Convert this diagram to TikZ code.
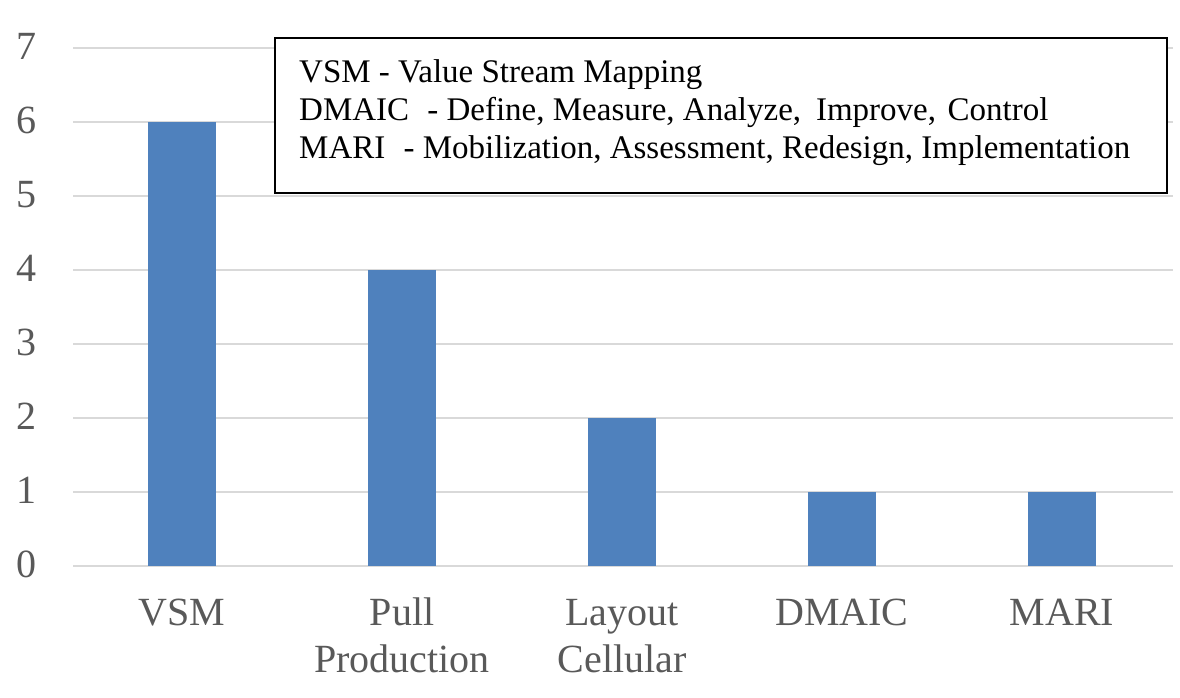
\documentclass[tikz,border=0pt]{standalone}
\usepackage{fontspec}
\setmainfont{Liberation Serif}
\definecolor{barblue}{HTML}{4F81BD}
\definecolor{gridgray}{HTML}{D9D9D9}
\definecolor{axisgray}{HTML}{595959}
\tikzset{
  gridline/.style={draw=gridgray, line width=2pt},
  barbox/.style={fill=barblue, draw=none},
  ylab/.style={anchor=base east, inner sep=0pt, text=axisgray, font=\fontsize{40}{40}\selectfont},
  xlab/.style={anchor=base, inner sep=0pt, text=axisgray, font=\fontsize{40}{40}\selectfont},
  legtext/.style={anchor=base west, inner sep=0pt, text=black, font=\fontsize{33}{38}\selectfont},
}
\begin{document}
\begin{tikzpicture}[x=1pt,y=1pt]
\useasboundingbox (0,0) rectangle (1180,-697);
% gridlines and y labels
\foreach \v in {0,...,7}{
  \draw[gridline] (73,{-566+74*\v}) -- (1173,{-566+74*\v});
  \node[ylab] (y\v) at (37,{-566+74*\v-11.5}) {\v};
}
% bars
\fill[barbox] (148,-566) rectangle (216,{-566+74*6});
\fill[barbox] (368,-566) rectangle (436,{-566+74*4});
\fill[barbox] (588,-566) rectangle (656,{-566+74*2});
\fill[barbox] (808,-566) rectangle (876,{-566+74*1});
\fill[barbox] (1028,-566) rectangle (1096,{-566+74*1});
% x labels
\node[xlab] (xvsm) at (182,-625) {VSM};
\node[xlab] (xpull1) at (402,-625) {Pull};
\node[xlab] (xpull2) at (402,-672) {Production};
\node[xlab] (xlay1) at (622,-625) {Layout};
\node[xlab] (xlay2) at (622,-672) {Cellular};
\node[xlab] (xdmaic) at (842,-625) {DMAIC};
\node[xlab] (xmari) at (1062,-625) {MARI};
% legend
\node[draw=black, fill=white, line width=2pt, inner sep=0pt, minimum width=892pt, minimum height=155pt, anchor=north west] (legend) at (274,-37) {};
\node[legtext] (l1) at (299,-82) {VSM - Value Stream Mapping};
\node[legtext] (l2) at (299,-120) {DMAIC\hspace{0.3em} - Define, Measure, Analyze,\hspace{0.2em} Improve,\hspace{0.1em} Control};
\node[legtext] (l3) at (299,-158) {MARI\hspace{0.3em} - Mobilization, Assessment, Redesign, Implementation};
\end{tikzpicture}
\end{document}
